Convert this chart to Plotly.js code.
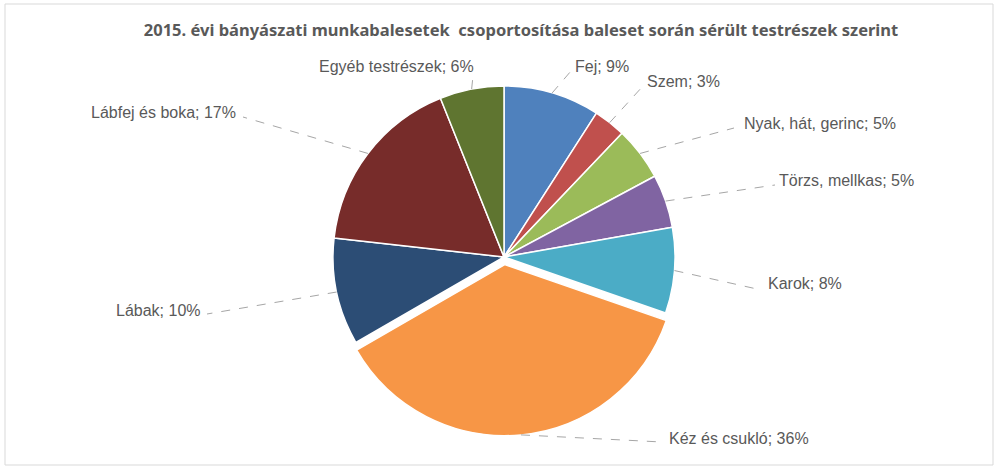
<!DOCTYPE html>
<html>
<head>
<meta charset="utf-8">
<script src="https://cdn.plot.ly/plotly-3.0.1.min.js"></script>
<style>html,body{margin:0;padding:0;background:#fff;}#chart{width:998px;height:469px;}</style>
</head>
<body>
<div id="chart"></div>
<script>
// ---- data ----
const categories = ["Fej", "Szem", "Nyak, hát, gerinc", "Törzs, mellkas", "Karok", "Kéz és csukló", "Lábak", "Lábfej és boka", "Egyéb testrészek"];
const values = [9, 3, 5, 5, 8, 36, 10, 17, 6];
const colors = ["#4F81BD", "#C0504D", "#9BBB59", "#8064A2", "#4BACC6", "#F79646", "#2C4D75", "#772C2A", "#5F7530"];
const pulls = [0, 0, 0, 0, 0, 0.045, 0, 0, 0];
const titleText = "2015. évi bányászati munkabalesetek  csoportosítása baleset során sérült testrészek szerint";

// ---- layout config (pixels) ----
const W = 998, H = 469;
const cx = 504, cy = 257, R = 171;
const maxPull = Math.max(...pulls);
const half = R * (1 + maxPull);
// label placement: [textX, textY, xanchor, lineEndX, lineEndY]
const labelPos = [
  [573, 67, "left", 571, 71],
  [645, 82, "left", 643, 86],
  [742, 123, "left", 734, 128],
  [777, 180, "left", 775, 185],
  [766, 283, "left", 757, 289],
  [667, 438, "left", 662, 442],
  [203, 310, "right", 207, 314],
  [238, 113, "right", 243, 117],
  [396, 66, "center", 473, 76]
];

const px = x => x / W;
const py = y => 1 - y / H;
const labelFont = {family: "Liberation Sans, Arial, sans-serif", size: 16, color: "#595959"};

const total = values.reduce((a, b) => a + b, 0);
const shapes = [{
  type: "rect", xref: "paper", yref: "paper",
  x0: px(5), x1: px(993), y0: py(465), y1: py(4),
  line: {color: "#d9d9d9", width: 1}, fillcolor: "rgba(0,0,0,0)", layer: "below"
}];
const annotations = [];
let cum = 0;
values.forEach((v, i) => {
  const mid = (cum + v / 2) / total * 2 * Math.PI;
  cum += v;
  const r = R * (1 + pulls[i]);
  const ex = cx + r * Math.sin(mid);
  const ey = cy - r * Math.cos(mid);
  const lp = labelPos[i];
  shapes.push({
    type: "line", xref: "paper", yref: "paper",
    x0: px(ex), y0: py(ey), x1: px(lp[3]), y1: py(lp[4]),
    line: {color: "#a6a6a6", width: 1, dash: "dash"}
  });
  const pct = Math.round(v / total * 100);
  annotations.push({
    xref: "paper", yref: "paper", x: px(lp[0]), y: py(lp[1]),
    xanchor: lp[2], yanchor: "middle", showarrow: false,
    text: categories[i] + "; " + pct + "%",
    font: labelFont
  });
});

const trace = {
  type: "pie",
  labels: categories,
  values: values,
  sort: false,
  direction: "clockwise",
  rotation: 0,
  pull: pulls,
  marker: {colors: colors, line: {color: "#ffffff", width: 1.5}},
  textinfo: "none",
  hoverinfo: "label+percent",
  domain: {x: [px(cx - half), px(cx + half)], y: [py(cy + half), py(cy - half)]}
};

const layout = {
  width: W, height: H,
  margin: {l: 0, r: 0, t: 0, b: 0},
  paper_bgcolor: "#ffffff",
  showlegend: false,
  title: {
    text: "<b>" + titleText + "</b>",
    x: px(521), xanchor: "center", y: py(30), yanchor: "middle",
    font: {family: "Noto Sans, Liberation Sans, Arial, sans-serif", size: 16.5, color: "#595959"}
  },
  shapes: shapes,
  annotations: annotations
};

Plotly.newPlot("chart", [trace], layout, {displayModeBar: false, staticPlot: true});
</script>
</body>
</html>
